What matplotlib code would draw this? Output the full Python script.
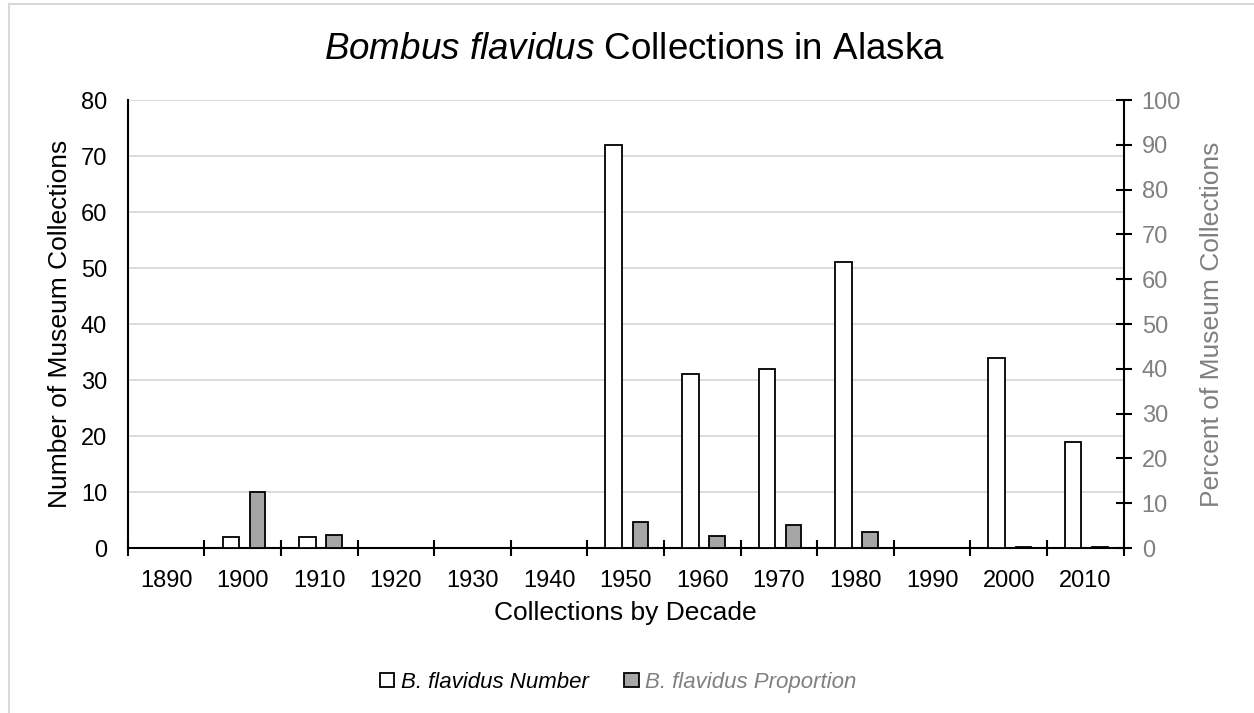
"""Bombus flavidus museum collections in Alaska, by decade."""
import matplotlib
matplotlib.use("Agg")
import matplotlib.pyplot as plt
from matplotlib.lines import Line2D
from matplotlib.patches import Patch
import numpy as np

DECADES = ["1890", "1900", "1910", "1920", "1930", "1940", "1950",
           "1960", "1970", "1980", "1990", "2000", "2010"]
NUMBER = [0, 2, 2, 0, 0, 0, 72, 31, 32, 51, 0, 34, 19]
PERCENT = [0, 12.4, 2.8, 0, 0, 0, 5.8, 2.7, 5.1, 3.5, 0, 0.3, 0.3]

GREY_TEXT = "#808080"


def _main() -> None:
    plt.rcParams["font.family"] = "Liberation Sans"
    plt.rcParams["mathtext.fontset"] = "custom"
    plt.rcParams["mathtext.rm"] = "Liberation Sans"
    plt.rcParams["mathtext.it"] = "Liberation Sans:italic"

    fig = plt.figure(figsize=(12.54, 7.13), dpi=100)
    ax = fig.add_axes([0.102, 0.2314, 0.794, 0.6283])
    ax2 = ax.twinx()

    x = np.arange(len(DECADES))
    ax.bar(x - 0.157, NUMBER, width=0.215, color="white",
           edgecolor="black", linewidth=1.3, zorder=3)
    ax2.bar(x + 0.19, PERCENT, width=0.2, color="#a6a6a6",
            edgecolor="black", linewidth=1.3, zorder=3)

    ax.set_xlim(-0.5, len(DECADES) - 0.5)
    ax.set_ylim(0, 80)
    ax2.set_ylim(0, 100)
    ax.set_yticks(np.arange(0, 81, 10))
    ax2.set_yticks(np.arange(0, 101, 10))
    ax.grid(axis="y", color="#d9d9d9", linewidth=1.3, zorder=0)
    ax.set_axisbelow(True)

    ax.set_xticks(x)
    ax.set_xticklabels(DECADES)
    ax.set_xticks(np.arange(-0.5, len(DECADES)), minor=True)
    ax.tick_params(axis="x", which="major", length=0, labelsize=17, pad=16)
    ax.tick_params(axis="x", which="minor", length=12, direction="inout",
                   width=1.5)
    ax.tick_params(axis="y", length=0, labelsize=17, pad=15)
    ax2.tick_params(axis="y", length=12, direction="inout", width=1.5,
                    labelsize=17, labelcolor=GREY_TEXT, pad=7)

    for a in (ax, ax2):
        a.spines["top"].set_visible(False)
        for side in ("left", "right", "bottom"):
            a.spines[side].set_linewidth(1.5)
    ax.spines["right"].set_visible(False)
    ax2.spines["left"].set_visible(False)
    ax2.spines["bottom"].set_visible(False)

    ax.set_xlabel("Collections by Decade", fontsize=19, labelpad=6)
    ax.set_ylabel("Number of Museum Collections", fontsize=19, labelpad=6)
    ax2.set_ylabel("Percent of Museum Collections", fontsize=19,
                   color=GREY_TEXT, labelpad=14)

    fig.text(0.506, 0.93,
             r"$\mathit{Bombus\ flavidus}$ Collections in Alaska",
             fontsize=26.5, ha="center", va="center")

    handles = [Patch(facecolor="white", edgecolor="black", linewidth=1.3),
               Patch(facecolor="#a6a6a6", edgecolor="black", linewidth=1.3)]
    leg = fig.legend(handles, ["B. flavidus Number", "B. flavidus Proportion"],
                     loc="center", bbox_to_anchor=(0.493, 0.043), ncol=2,
                     frameon=False, prop={"style": "italic", "size": 16},
                     handlelength=0.65, handleheight=0.65, handletextpad=0.3,
                     columnspacing=1.6)
    leg.get_texts()[1].set_color(GREY_TEXT)

    # chart-area frame, cropped on the right and bottom
    fig.add_artist(Line2D([0.007, 0.007], [0.0, 0.995], color="#d9d9d9",
                          linewidth=1.5, transform=fig.transFigure))
    fig.add_artist(Line2D([0.007, 1.0], [0.995, 0.995], color="#d9d9d9",
                          linewidth=1.5, transform=fig.transFigure))

    fig.savefig("out.png", dpi=100, facecolor="white")


if __name__ == "__main__":
    _main()
